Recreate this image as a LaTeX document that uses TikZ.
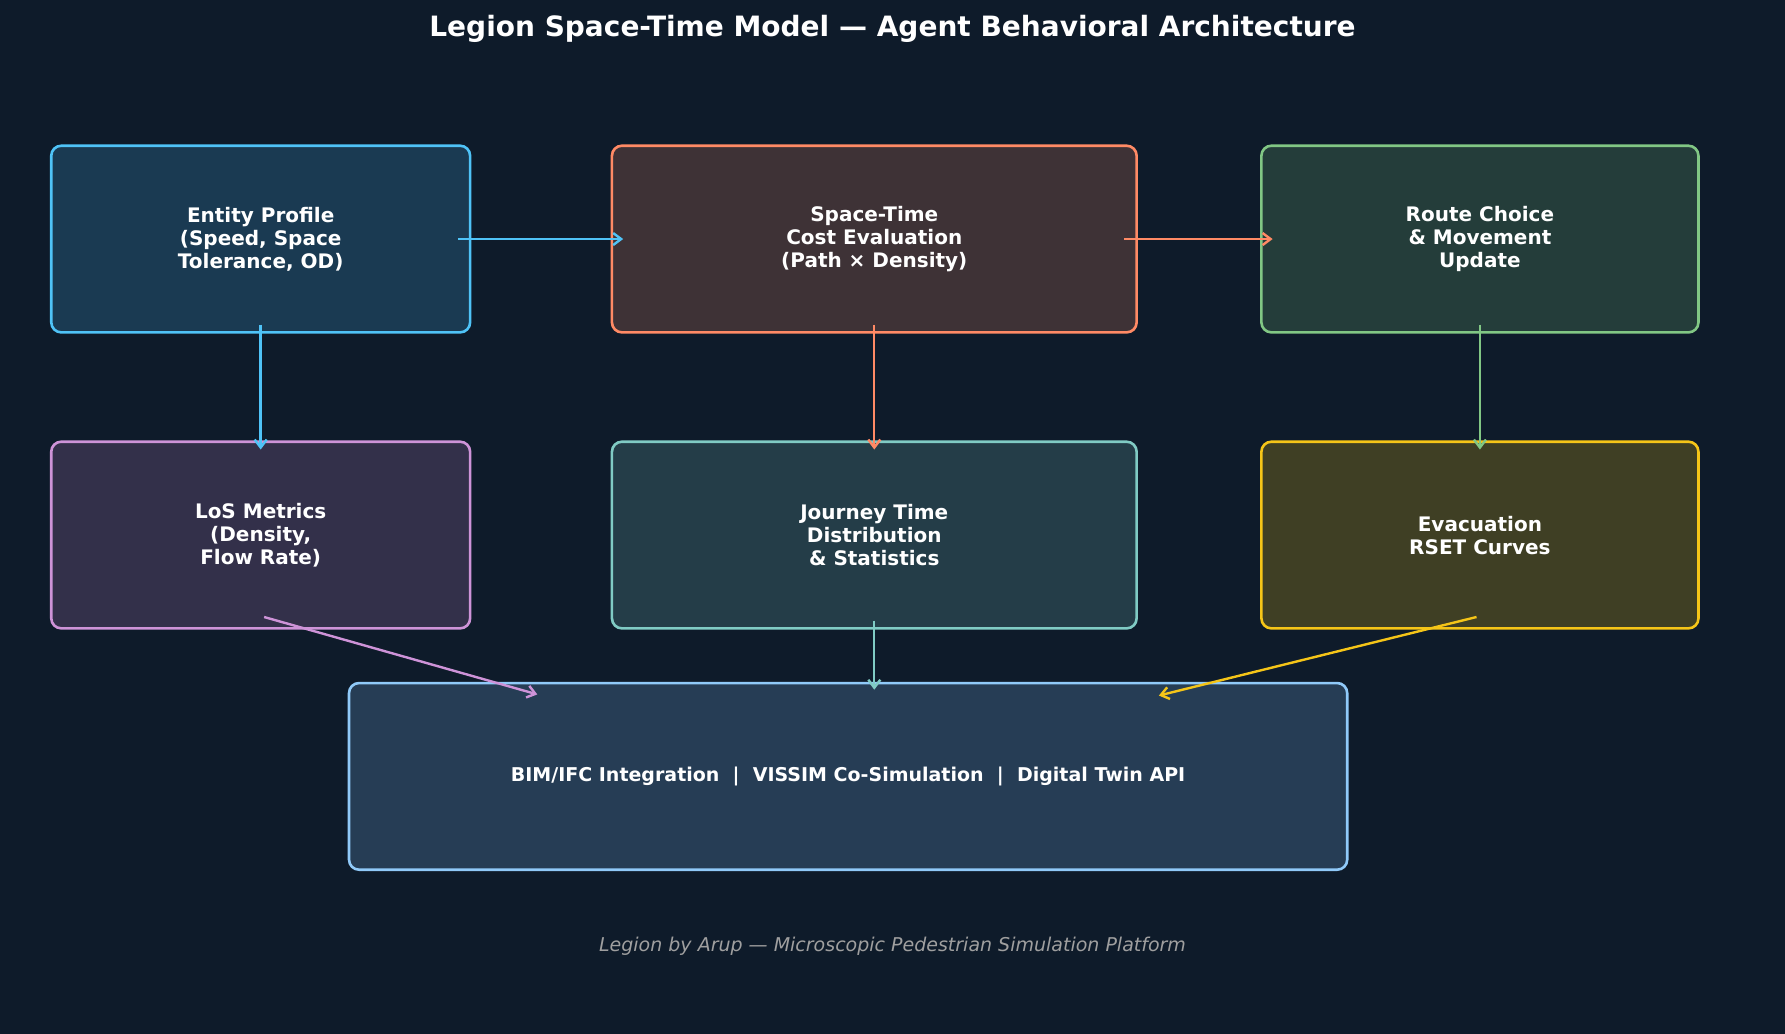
\documentclass[tikz,border=0pt]{standalone}
\usepackage{fontspec}
\setmainfont{DejaVu Sans}
\usetikzlibrary{arrows.meta}
\definecolor{bgc}{HTML}{0E1B2A}
\definecolor{entln}{HTML}{4FC3F7}
\definecolor{entfl}{HTML}{1A3A52}
\definecolor{costln}{HTML}{FF8A65}
\definecolor{costfl}{HTML}{3E3236}
\definecolor{routeln}{HTML}{81C784}
\definecolor{routefl}{HTML}{243D3A}
\definecolor{losln}{HTML}{CE93D8}
\definecolor{losfl}{HTML}{33304A}
\definecolor{jtln}{HTML}{80CBC4}
\definecolor{jtfl}{HTML}{243D48}
\definecolor{evacln}{HTML}{F5C518}
\definecolor{evacfl}{HTML}{3F3F24}
\definecolor{bimln}{HTML}{90CAF9}
\definecolor{bimfl}{HTML}{263D55}
\tikzstyle{blk}=[draw, line width=1.3pt, rounded corners=5pt, align=center, text=white, font=\bfseries\fontsize{10}{11.5}\selectfont, minimum width=7.36cm, minimum height=3.28cm]
\tikzstyle{flow}=[-{Straight Barb[length=4pt,width=6pt]}, line width=1.2pt]

\begin{document}
\begin{tikzpicture}[x=0.02cm, y=-0.02cm]
    \fill [bgc] (0, 0) rectangle (1568, 908);
    \node [text=white, font=\bfseries\fontsize{14}{16}\selectfont] (title) at (784, 25) {Legion Space-Time Model — Agent Behavioral Architecture};

    \node [blk, draw=entln, fill=entfl] (ent) at (229, 210) {Entity Profile\\(Speed, Space\\Tolerance, OD)};
    \node [blk, draw=costln, fill=costfl, minimum width=9.22cm] (cost) at (768, 210) {Space-Time\\Cost Evaluation\\(Path × Density)};
    \node [blk, draw=routeln, fill=routefl, minimum width=7.68cm] (route) at (1300, 210) {Route Choice\\\& Movement\\Update};

    \node [blk, draw=losln, fill=losfl] (los) at (229, 470) {LoS Metrics\\(Density,\\Flow Rate)};
    \node [blk, draw=jtln, fill=jtfl, minimum width=9.22cm] (jt) at (768, 470) {Journey Time\\Distribution\\\& Statistics};
    \node [blk, draw=evacln, fill=evacfl, minimum width=7.68cm] (evac) at (1300, 470) {Evacuation\\RSET Curves};

    \node [blk, draw=bimln, fill=bimfl, minimum width=17.54cm, font=\bfseries\fontsize{9.5}{11}\selectfont] (bim) at (745, 682) {BIM/IFC Integration\ \ |\ \ VISSIM Co-Simulation\ \ |\ \ Digital Twin API};

    \node [text=gray!75, font=\itshape\fontsize{9.5}{11}\selectfont] (foot) at (784, 831) {Legion by Arup — Microscopic Pedestrian Simulation Platform};

    \coordinate (los1) at (232, 542);
    \coordinate (los2) at (472, 610);
    \coordinate (evac1) at (1297, 542);
    \coordinate (evac2) at (1018, 611);

    \draw [flow, entln, shorten <=-0.24cm, shorten >=-0.22cm] (ent) -- (cost);
    \draw [flow, costln, shorten <=-0.24cm, shorten >=-0.22cm] (cost) -- (route);
    \draw [flow, entln, shorten <=-0.16cm, shorten >=-0.16cm] (ent.south) -- (los.north);
    \draw [flow, costln, shorten <=-0.16cm, shorten >=-0.16cm] (cost.south) -- (jt.north);
    \draw [flow, routeln, shorten <=-0.16cm, shorten >=-0.16cm] (route.south) -- (evac.north);
    \draw [flow, losln] (los1) -- (los2);
    \draw [flow, jtln, shorten <=-0.16cm, shorten >=-0.14cm] (jt.south) -- (jt.south |- bim.north);
    \draw [flow, evacln] (evac1) -- (evac2);
\end{tikzpicture}
\end{document}
